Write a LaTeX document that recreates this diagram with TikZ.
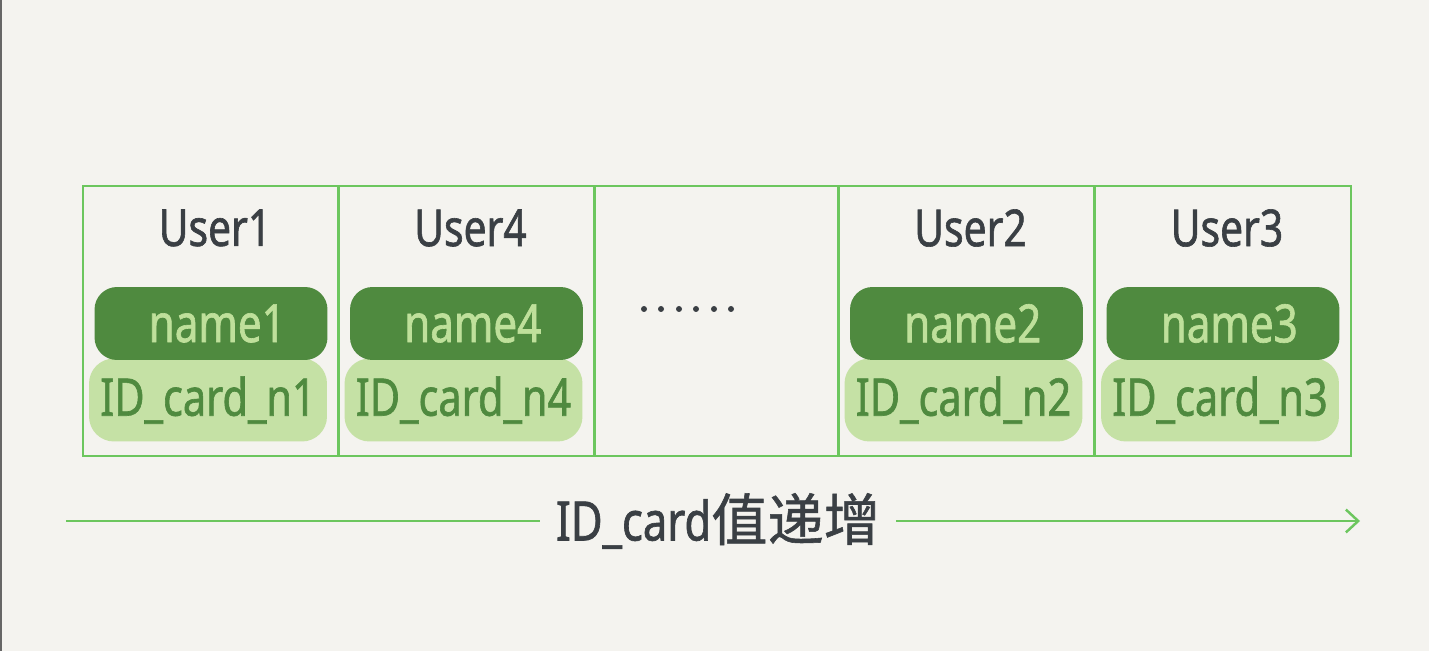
\documentclass[tikz,border=0pt]{standalone}
\usepackage{fontspec}
\usetikzlibrary{arrows.meta}
\newfontfamily\hand[FakeStretch=0.8, FakeBold=1.2]{Noto Sans}
\newfontfamily\cjk[FakeBold=1]{Noto Sans CJK SC}
\definecolor{paper}{HTML}{F4F3EF}
\definecolor{edge}{HTML}{6CC65E}
\definecolor{darkleaf}{HTML}{4F8A3F}
\definecolor{lightleaf}{HTML}{C5E1A5}
\definecolor{palefont}{HTML}{BFE09B}
\definecolor{ink}{HTML}{3A3F44}
\tikzset{
    cell/.style={draw=edge, line width=1.5pt, minimum width=5.12cm, minimum height=5.4cm, inner sep=0pt},
    namepill/.style={fill=darkleaf, rounded corners=0.45cm, minimum width=4.66cm, minimum height=1.46cm, text=palefont, font=\hand\fontsize{30}{30}\selectfont, inner sep=0pt},
    idpill/.style={fill=lightleaf, rounded corners=0.5cm, minimum width=4.76cm, minimum height=1.66cm, text=darkleaf, font=\hand\fontsize{29.5}{30}\selectfont, inner sep=0pt},
    user/.style={text=ink, font=\hand\fontsize{29}{29}\selectfont},
    flow/.style={draw=edge, line width=1.3pt}
}
\begin{document}
\begin{tikzpicture}[x=0.02cm, y=-0.02cm]
    \useasboundingbox (0,0) rectangle (1429,651);
    \fill[paper] (0,0) rectangle (1429,651);
    \fill[black!60] (0,0) rectangle (2,651);
    % the rows of the index
    \foreach \i/\cx/\u in {1/211/User1, 4/466.5/User4, 2/966.5/User2, 3/1223/User3} {
        \node[cell] (c\i) at (\cx,321) {};
        \node[user] (u\i) at (\cx+4,228) {\u};
        \node[idpill] (id\i) at (\cx-3,400) {ID\_card\_n\i};
        \node[namepill] (n\i) at (\cx,323.5) {\hspace{0.25cm}name\i};
    }
    \node[cell, minimum width=4.88cm] (gap) at (716,321) {};
    \foreach \x in {644,661,679,696,714,731} {
        \fill[ink] (\x,309) circle (3);
    }
    % direction of the key
    \coordinate (start) at (66,521);
    \coordinate (stop) at (1360,521);
    \node[text=ink, inner xsep=9pt] (key) at (718,521) {\hand\fontsize{31}{31}\selectfont ID\_card\cjk\fontsize{32}{32}\selectfont 值递增};
    \draw[flow] (start) -- (key);
    \draw[flow, -{Straight Barb[length=7pt, width=13pt, line width=1.4pt]}] (key) -- (stop);
\end{tikzpicture}
\end{document}
